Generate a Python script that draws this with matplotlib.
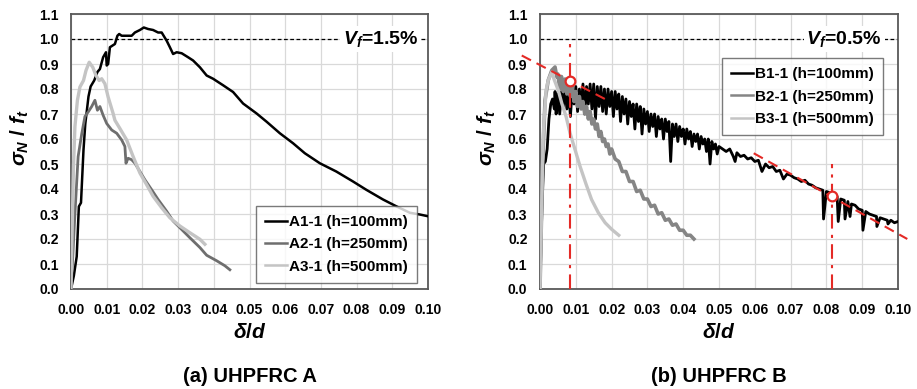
#!/usr/bin/env python3
"""
Curvas normalizadas sigma_N/f_t vs delta/d para UHPFRC A y B.
"""

import matplotlib

matplotlib.use("Agg")
import matplotlib.pyplot as plt

plt.rcParams["font.family"] = ["Liberation Sans", "DejaVu Sans"]
plt.rcParams["font.weight"] = "bold"
plt.rcParams["mathtext.fontset"] = "custom"
plt.rcParams["mathtext.rm"] = "Liberation Sans:bold"
plt.rcParams["mathtext.it"] = "Liberation Sans:italic:bold"
plt.rcParams["mathtext.bf"] = "Liberation Sans:bold"

COLORS = {
    "black": "#000000",
    "dark": "#6e6e6e",
    "mid": "#858585",
    "light": "#c4c4c4",
    "red": "#e42a26",
    "grid": "#d9d9d9",
    "spine": "#595959",
}

# ---- UHPFRC A (Vf = 1.5%) ----
a1_delta = [0.0, 0.0002, 0.0008, 0.0016, 0.0022, 0.0028, 0.0035, 0.0040, 0.0049, 0.0055,
            0.0065, 0.0074, 0.0081, 0.0090, 0.0098, 0.0100, 0.0104, 0.0109, 0.0123, 0.0130,
            0.0135, 0.0142, 0.0170, 0.0179, 0.0193, 0.0204, 0.0216, 0.0230, 0.0244, 0.0254,
            0.0268, 0.0277, 0.0286, 0.0296, 0.0310, 0.0328, 0.0342, 0.0361, 0.0380, 0.0398,
            0.0426, 0.0454, 0.0482, 0.0520, 0.0548, 0.0585, 0.0622, 0.0655, 0.0697, 0.0743,
            0.0790, 0.0827, 0.0874, 0.0911, 0.0949, 0.0977, 0.1000]
a1_sigma = [0.0, 0.013, 0.053, 0.13, 0.33, 0.345, 0.556, 0.66, 0.77, 0.81,
            0.834, 0.868, 0.88, 0.927, 0.947, 0.894, 0.90, 0.967, 0.98, 1.013,
            1.02, 1.013, 1.013, 1.026, 1.036, 1.046, 1.04, 1.036, 1.026, 1.026,
            0.993, 0.967, 0.94, 0.947, 0.943, 0.927, 0.914, 0.887, 0.854, 0.841,
            0.815, 0.788, 0.742, 0.702, 0.669, 0.623, 0.583, 0.543, 0.503, 0.47,
            0.43, 0.397, 0.358, 0.331, 0.305, 0.298, 0.291]

a2_delta = [0.0, 0.0005, 0.0011, 0.0020, 0.0030, 0.0039, 0.0049, 0.0058, 0.0067, 0.0074,
            0.0081, 0.0090, 0.0100, 0.0114, 0.0128, 0.0142, 0.0151, 0.0154, 0.0160, 0.0170,
            0.0179, 0.0193, 0.0207, 0.0226, 0.0244, 0.0268, 0.0286, 0.0310, 0.0333, 0.0361,
            0.0380, 0.0408, 0.0431, 0.0445]
a2_sigma = [0.0, 0.13, 0.30, 0.53, 0.62, 0.69, 0.71, 0.73, 0.755, 0.715,
            0.73, 0.695, 0.662, 0.636, 0.623, 0.596, 0.57, 0.503, 0.523, 0.517,
            0.503, 0.47, 0.437, 0.397, 0.358, 0.311, 0.272, 0.238, 0.205, 0.166,
            0.135, 0.113, 0.093, 0.077]

a3_delta = [0.0, 0.0003, 0.0007, 0.0011, 0.0018, 0.0025, 0.0035, 0.0042, 0.0051, 0.0061,
            0.0070, 0.0079, 0.0086, 0.0095, 0.0104, 0.0118, 0.0123, 0.0137, 0.0156, 0.0174,
            0.0193, 0.0212, 0.0230, 0.0254, 0.0277, 0.0305, 0.0333, 0.0361, 0.0375]
a3_sigma = [0.0, 0.225, 0.49, 0.65, 0.755, 0.808, 0.834, 0.874, 0.907, 0.887,
            0.854, 0.834, 0.841, 0.821, 0.768, 0.702, 0.675, 0.642, 0.596, 0.53,
            0.464, 0.417, 0.371, 0.325, 0.285, 0.252, 0.225, 0.199, 0.179]

# ---- UHPFRC B (Vf = 0.5%) ----
b1_delta = [0.0, 0.0005, 0.0008, 0.0010, 0.0015, 0.0020, 0.0025, 0.0030, 0.0035, 0.0040,
            0.0042, 0.0045,
            0.0050, 0.0055, 0.0060, 0.0065, 0.0070, 0.0075, 0.0080, 0.0085, 0.0090, 0.0095,
            0.0100, 0.0105, 0.0110, 0.0115, 0.0120, 0.0125, 0.0130, 0.0135, 0.0140, 0.0145,
            0.0150, 0.0155, 0.0160, 0.0165, 0.0170, 0.0175, 0.0180, 0.0185, 0.0190, 0.0195,
            0.0200, 0.0205, 0.0210, 0.0215, 0.0220, 0.0225, 0.0230, 0.0235, 0.0240, 0.0245,
            0.0250, 0.0255, 0.0260, 0.0265, 0.0270, 0.0275, 0.0280, 0.0285, 0.0290, 0.0295,
            0.0300, 0.0305, 0.0310, 0.0315, 0.0320, 0.0325, 0.0330, 0.0335, 0.0340, 0.0345,
            0.0350, 0.0355, 0.0360, 0.0365, 0.0370, 0.0375, 0.0380, 0.0385, 0.0390, 0.0395,
            0.0400, 0.0405, 0.0410, 0.0415, 0.0420, 0.0425, 0.0430, 0.0435, 0.0440, 0.0445,
            0.0450, 0.0455, 0.0460, 0.0465, 0.0470, 0.0475, 0.0480, 0.0485, 0.0490, 0.0495,
            0.0500, 0.0510, 0.0520, 0.0530, 0.0540, 0.0545, 0.0550, 0.0560, 0.0570, 0.0580,
            0.0590, 0.0600, 0.0610, 0.0620, 0.0630, 0.0640, 0.0650, 0.0660, 0.0670, 0.0680,
            0.0690, 0.0700, 0.0710, 0.0720, 0.0730, 0.0740, 0.0750, 0.0760, 0.0770, 0.0780,
            0.0790, 0.0792, 0.0800, 0.0810, 0.0820, 0.0830, 0.0833, 0.0840, 0.0850, 0.0852,
            0.0860, 0.0866, 0.0870, 0.0880, 0.0890, 0.0900, 0.0902, 0.0910, 0.0920, 0.0930,
            0.0940, 0.0941, 0.0950, 0.0960, 0.0970, 0.0972, 0.0980, 0.0990, 0.1000]
b1_sigma = [0.0, 0.30, 0.42, 0.50, 0.51, 0.56, 0.68, 0.74, 0.76, 0.72,
            0.79, 0.70,
            0.78, 0.70, 0.79, 0.73, 0.80, 0.72, 0.79, 0.69, 0.80, 0.74,
            0.81, 0.71, 0.80, 0.73, 0.82, 0.70, 0.81, 0.74, 0.82, 0.72,
            0.82, 0.68, 0.81, 0.73, 0.81, 0.71, 0.80, 0.70, 0.80, 0.73,
            0.79, 0.69, 0.79, 0.72, 0.78, 0.67, 0.77, 0.70, 0.76, 0.66,
            0.75, 0.69, 0.74, 0.64, 0.74, 0.67, 0.73, 0.62, 0.72, 0.66,
            0.71, 0.63, 0.70, 0.65, 0.70, 0.61, 0.69, 0.64, 0.68, 0.60,
            0.68, 0.63, 0.67, 0.51, 0.66, 0.61, 0.66, 0.59, 0.65, 0.61,
            0.64, 0.58, 0.64, 0.60, 0.63, 0.57, 0.62, 0.59, 0.62, 0.56,
            0.61, 0.58, 0.60, 0.55, 0.60, 0.50, 0.59, 0.56, 0.58, 0.54,
            0.57, 0.56, 0.55, 0.56, 0.53, 0.51, 0.545, 0.53, 0.535, 0.52,
            0.525, 0.51, 0.515, 0.47, 0.50, 0.485, 0.49, 0.47, 0.475, 0.44,
            0.46, 0.455, 0.445, 0.44, 0.43, 0.435, 0.42, 0.415, 0.405, 0.40,
            0.395, 0.28, 0.39, 0.385, 0.37, 0.37, 0.27, 0.36, 0.355, 0.28,
            0.35, 0.29, 0.34, 0.335, 0.32, 0.315, 0.235, 0.31, 0.30, 0.295,
            0.29, 0.25, 0.285, 0.28, 0.275, 0.26, 0.275, 0.265, 0.27]

b2_delta = [0.0, 0.0007, 0.0014, 0.0023, 0.0033, 0.0042, 0.0047,
            0.0050, 0.0055, 0.0060, 0.0065, 0.0070, 0.0075, 0.0080, 0.0085, 0.0090, 0.0095,
            0.0100, 0.0105, 0.0110, 0.0115, 0.0120, 0.0125, 0.0130, 0.0135, 0.0140, 0.0145,
            0.0150, 0.0155, 0.0160, 0.0165, 0.0170, 0.0175, 0.0180, 0.0185, 0.0190, 0.0195,
            0.0200, 0.0210, 0.0220, 0.0230, 0.0240, 0.0250, 0.0260, 0.0270, 0.0280, 0.0290,
            0.0300, 0.0310, 0.0320, 0.0330, 0.0340, 0.0350, 0.0360, 0.0370, 0.0380, 0.0390,
            0.0400, 0.0410, 0.0420, 0.0430]
b2_sigma = [0.0, 0.49, 0.755, 0.835, 0.875, 0.888, 0.848,
            0.86, 0.80, 0.85, 0.79, 0.84, 0.78, 0.82, 0.77, 0.81, 0.75,
            0.79, 0.73, 0.77, 0.72, 0.75, 0.70, 0.73, 0.68, 0.71, 0.66,
            0.68, 0.64, 0.66, 0.61, 0.63, 0.59, 0.60, 0.57, 0.58, 0.54,
            0.56, 0.52, 0.51, 0.47, 0.47, 0.43, 0.43, 0.39, 0.395, 0.36,
            0.36, 0.33, 0.335, 0.30, 0.305, 0.275, 0.28, 0.255, 0.26, 0.235,
            0.235, 0.215, 0.215, 0.20]

b3_delta = [0.0, 0.0005, 0.0009, 0.0017, 0.0023, 0.0033, 0.0039, 0.0051, 0.0061, 0.0073,
            0.0084, 0.0098, 0.0112, 0.0129, 0.0144, 0.0163, 0.0182, 0.0200, 0.0220]
b3_sigma = [0.0, 0.358, 0.62, 0.795, 0.835, 0.868, 0.84, 0.795, 0.742, 0.689,
            0.623, 0.557, 0.49, 0.418, 0.358, 0.305, 0.265, 0.239, 0.215]

# tramos de la recta de referencia y puntos marcados (panel B)
trend_left_delta = [-0.0051, 0.0196]
trend_left_sigma = [0.934, 0.749]
trend_right_delta = [0.0597, 0.1026]
trend_right_sigma = [0.543, 0.200]
mark_delta = [0.0084, 0.0817]
mark_sigma = [0.833, 0.373]
mark_top = [0.98, 0.50]

x_ticks = [0.00, 0.01, 0.02, 0.03, 0.04, 0.05, 0.06, 0.07, 0.08, 0.09, 0.10]
y_ticks = [0.0, 0.1, 0.2, 0.3, 0.4, 0.5, 0.6, 0.7, 0.8, 0.9, 1.0, 1.1]

A_LABELS = ["A1-1 (h=100mm)", "A2-1 (h=250mm)", "A3-1 (h=500mm)"]
B_LABELS = ["B1-1 (h=100mm)", "B2-1 (h=250mm)", "B3-1 (h=500mm)"]

W, H = 917, 389


def style_axes(ax):
    ax.set_xlim(0, 0.1)
    ax.set_ylim(0, 1.1)
    ax.set_xticks(x_ticks)
    ax.set_yticks(y_ticks)
    ax.set_xticklabels([f"{v:.2f}" for v in x_ticks])
    ax.set_yticklabels([f"{v:.1f}" for v in y_ticks])
    ax.tick_params(length=0, labelsize=10, pad=9)
    ax.tick_params(axis="x", pad=10)
    for lab in ax.get_xticklabels() + ax.get_yticklabels():
        lab.set_fontweight("bold")
    ax.grid(color=COLORS["grid"], lw=0.9)
    ax.set_axisbelow(True)
    for sp in ax.spines.values():
        sp.set_color(COLORS["spine"])
        sp.set_linewidth(1.3)
    ax.axhline(1.0, color="black", lw=0.9, ls=(0, (3, 2)), zorder=1.5)


def vf_text(ax, x, text):
    ax.text(x, 1.0, text, ha="right", va="center", fontsize=14, fontweight="bold",
            zorder=4, bbox={"facecolor": "white", "edgecolor": "none", "pad": 2})


def add_legend(ax, anchor, loc):
    leg = ax.legend(loc=loc, bbox_to_anchor=anchor, fontsize=11, frameon=True, fancybox=False,
                    handlelength=1.4, handletextpad=0.15, labelspacing=0.55, borderpad=0.6,
                    borderaxespad=0)
    leg.get_frame().set_edgecolor(COLORS["spine"])
    leg.get_frame().set_linewidth(1.0)
    for t in leg.get_texts():
        t.set_fontweight("bold")
    for line in leg.get_lines():
        line.set_linewidth(1.8)


def panel_labels(fig, ax, ylab_x, title):
    box = ax.get_position()
    cx = (box.x0 + box.x1) / 2
    fig.text(ylab_x / W, 1 - 138 / H, r"$\sigma_N$ / $f_t$", rotation=90, ha="center", va="center",
             fontsize=15, fontweight="bold")
    fig.text(cx, 1 - 333 / H, r"$\delta/d$", ha="center", va="center", fontsize=15)
    fig.text(cx, 1 - 376 / H, title, ha="center", va="center", fontsize=14.5, fontweight="bold")


def panel_a(fig):
    ax = fig.add_axes([71 / W, 1 - 289 / H, 357 / W, 275 / H])
    style_axes(ax)
    ax.plot(a1_delta, a1_sigma, color=COLORS["black"], lw=1.8, label=A_LABELS[0], zorder=3)
    ax.plot(a2_delta, a2_sigma, color=COLORS["dark"], lw=2.0, label=A_LABELS[1], zorder=3.1)
    ax.plot(a3_delta, a3_sigma, color=COLORS["light"], lw=2.4, label=A_LABELS[2], zorder=3.2)
    vf_text(ax, 0.0972, r"$V_f$=1.5%")
    add_legend(ax, (0.969, 0.022), "lower right")
    panel_labels(fig, ax, 20, "(a) UHPFRC A")


def panel_b(fig):
    ax = fig.add_axes([540 / W, 1 - 289 / H, 358 / W, 275 / H])
    style_axes(ax)
    ax.plot(b1_delta, b1_sigma, color=COLORS["black"], lw=2.0, label=B_LABELS[0], zorder=3)
    ax.plot(b2_delta, b2_sigma, color=COLORS["mid"], lw=2.6, label=B_LABELS[1], zorder=3.1)
    ax.plot(b3_delta, b3_sigma, color=COLORS["light"], lw=2.4, label=B_LABELS[2], zorder=3.2)
    for xs, ys in [(trend_left_delta, trend_left_sigma), (trend_right_delta, trend_right_sigma)]:
        ax.plot(xs, ys, color=COLORS["red"], lw=1.5, ls=(0, (5, 3)), clip_on=False, zorder=4)
    for x, top in zip(mark_delta, mark_top):
        ax.plot([x, x], [0, top], color=COLORS["red"], lw=1.5, ls=(0, (7, 3, 1.5, 3)), zorder=4)
    ax.plot(mark_delta, mark_sigma, ls="none", marker="o", ms=7, mfc="white", mec=COLORS["red"],
            mew=1.6, zorder=5)
    vf_text(ax, 0.0955, r"$V_f$=0.5%")
    add_legend(ax, (0.958, 0.84), "upper right")
    panel_labels(fig, ax, 487, "(b) UHPFRC B")


def main():
    fig = plt.figure(figsize=(W / 100, H / 100), dpi=100)
    panel_a(fig)
    panel_b(fig)
    fig.savefig("out.png", dpi=100, facecolor="white")
    plt.close(fig)


if __name__ == "__main__":
    main()
